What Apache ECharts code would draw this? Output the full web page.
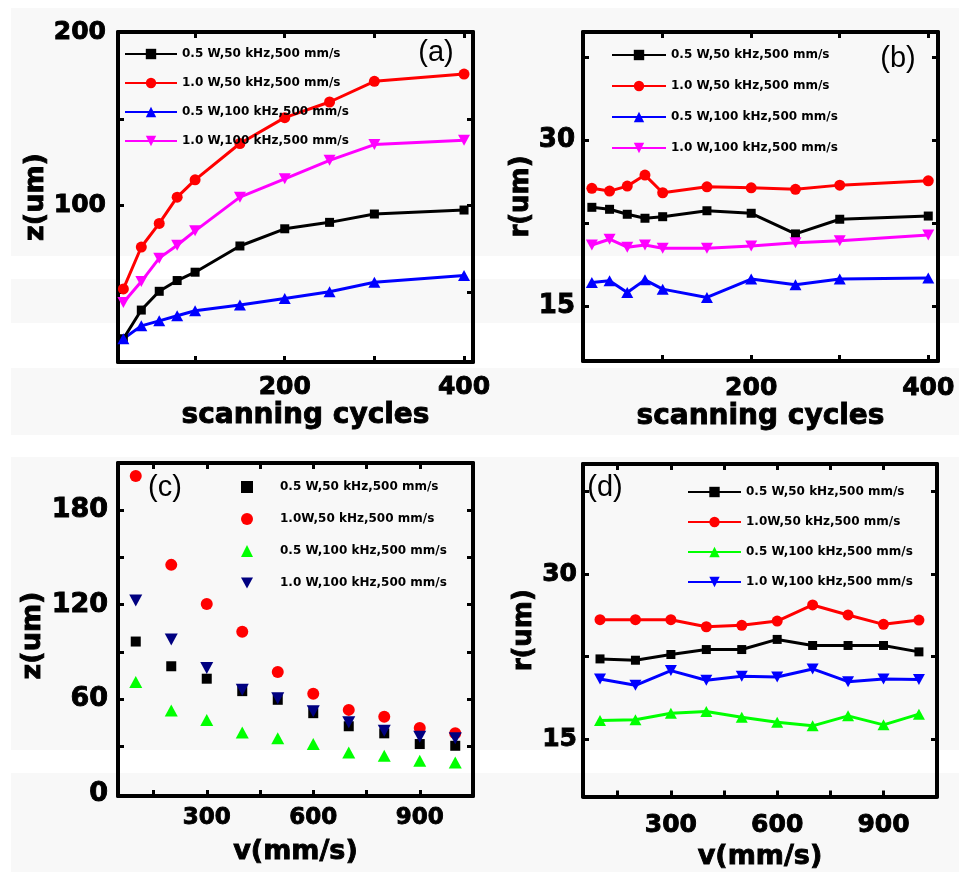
<!DOCTYPE html>
<html>
<head>
<meta charset="utf-8">
<script src="https://cdn.jsdelivr.net/npm/echarts@6/dist/echarts.min.js"></script>
<style>html,body{margin:0;padding:0;background:#fff;}#c{width:959px;height:872px;}</style>
</head>
<body>
<div id="c"></div>
<script>
// ---------- data ----------
const cycles = [20, 40, 60, 80, 100, 150, 200, 250, 300, 400];
const speeds = [100, 200, 300, 400, 500, 600, 700, 800, 900, 1000];

const legendAB = ['0.5 W,50 kHz,500 mm/s', '1.0 W,50 kHz,500 mm/s', '0.5 W,100 kHz,500 mm/s', '1.0 W,100 kHz,500 mm/s'];
const legendCD = ['0.5 W,50 kHz,500 mm/s', '1.0W,50 kHz,500 mm/s', '0.5 W,100 kHz,500 mm/s', '1.0 W,100 kHz,500 mm/s'];

// (a) depth vs scanning cycles
const zA_05_50  = [23.4, 39.9, 50.7, 56.9, 61.7, 76.8, 86.7, 90.4, 95.2, 97.5];
const zA_10_50  = [52.1, 76.2, 89.8, 104.9, 114.9, 135.8, 150.7, 159.7, 171.6, 175.8];
const zA_05_100 = [23.4, 30.8, 33.7, 36.6, 39.5, 42.8, 46.6, 50.5, 55.9, 59.8];
const zA_10_100 = [44.3, 56.3, 69.8, 77.2, 85.5, 104.9, 115.5, 126.1, 135.2, 137.7];

// (b) radius vs scanning cycles
const rB_05_50  = [23.92, 23.74, 23.29, 22.93, 23.07, 23.61, 23.38, 21.51, 22.84, 23.13];
const rB_10_50  = [25.64, 25.39, 25.84, 26.84, 25.24, 25.78, 25.69, 25.55, 25.93, 26.32];
const rB_05_100 = [17.11, 17.26, 16.21, 17.35, 16.51, 15.76, 17.42, 16.90, 17.42, 17.51];
const rB_10_100 = [20.51, 21.03, 20.31, 20.51, 20.21, 20.21, 20.42, 20.72, 20.90, 21.42];

// (c) depth vs speed
const zC_05_50  = [96.6, 80.9, 73.0, 65.1, 59.6, 51.1, 42.8, 38.3, 31.5, 30.4];
const zC_10_50  = [201.7, 145.3, 120.4, 102.8, 77.2, 63.4, 53.2, 48.9, 41.7, 38.3];
const zC_05_100 = [70.9, 52.8, 46.8, 38.9, 35.1, 31.5, 26.2, 24.0, 20.9, 19.8];
const zC_10_100 = [122.6, 97.9, 79.8, 66.0, 60.6, 52.3, 45.3, 40.0, 36.2, 35.1];

// (d) radius vs speed
const rD_05_50  = [22.30, 22.18, 22.70, 23.15, 23.15, 24.07, 23.52, 23.52, 23.52, 22.94];
const rD_10_50  = [25.86, 25.86, 25.86, 25.22, 25.35, 25.74, 27.20, 26.29, 25.44, 25.83];
const rD_05_100 = [16.70, 16.77, 17.37, 17.53, 17.01, 16.55, 16.22, 17.13, 16.31, 17.28];
const rD_10_100 = [20.48, 19.90, 21.24, 20.36, 20.72, 20.66, 21.39, 20.23, 20.48, 20.42];

// tick values
const ticksX_AB = [100, 200, 300, 400];
const labelsX_AB = [200, 400];
const ticksY_A = [50, 100, 150, 200];
const labelsY_A = [100, 200];
const ticksY_BD = [15, 22.5, 30, 37.5];
const labelsY_BD = [15, 30];
const ticksX_CD = [150, 300, 450, 600, 750, 900];
const labelsX_CD = [300, 600, 900];
const ticksY_C = [30, 60, 90, 120, 150, 180];
const labelsY_C = [0, 60, 120, 180];

// ---------- helpers ----------
const FONT = 'DejaVu Sans';
const INV_TRI = 'path://M0,0L20,0L10,18Z';
const HEAVY = { textBorderColor: '#000', textBorderWidth: 0.9 };

function pairs(xs, ys) { return xs.map((x, i) => [x, ys[i]]); }

function xAxes(grid, min, max, ticks, labels, fs, margin, name, gap, pad, nfs) {
  const base = {
    type: 'value', gridIndex: grid, min: min, max: max,
    splitLine: { show: false },
    axisLine: { show: true, onZero: false, lineStyle: { color: '#000', width: 4 } },
    axisTick: { show: true, inside: true, length: 6, customValues: ticks, lineStyle: { color: '#000', width: 3 } }
  };
  return [
    Object.assign({}, base, {
      position: 'bottom',
      axisLabel: Object.assign({ show: true, customValues: labels, margin: margin, color: '#000', fontFamily: FONT, fontWeight: 'bold', fontSize: fs }, HEAVY),
      name: name, nameLocation: 'middle', nameGap: gap,
      nameTextStyle: Object.assign({ color: '#000', fontFamily: FONT, fontWeight: 'bold', fontSize: nfs, padding: pad }, HEAVY)
    }),
    Object.assign({}, base, { position: 'top', axisLabel: { show: false } })
  ];
}

function yAxes(grid, min, max, ticks, labels, fs, margin, name, gap, pad, nfs) {
  const base = {
    type: 'value', gridIndex: grid, min: min, max: max,
    splitLine: { show: false },
    axisLine: { show: true, onZero: false, lineStyle: { color: '#000', width: 4 } },
    axisTick: { show: true, inside: true, length: 6, customValues: ticks, lineStyle: { color: '#000', width: 3 } }
  };
  return [
    Object.assign({}, base, {
      position: 'left',
      axisLabel: Object.assign({ show: true, customValues: labels, margin: margin, color: '#000', fontFamily: FONT, fontWeight: 'bold', fontSize: fs }, HEAVY),
      name: name, nameLocation: 'middle', nameGap: gap, nameRotate: 90,
      nameTextStyle: Object.assign({ color: '#000', fontFamily: FONT, fontWeight: 'bold', fontSize: nfs, padding: pad }, HEAVY)
    }),
    Object.assign({}, base, { position: 'right', axisLabel: { show: false } })
  ];
}

function lineS(panel, label, idx, xs, ys, color, symbol, size) {
  return {
    type: 'line', name: panel + '|' + label, xAxisIndex: idx * 2, yAxisIndex: idx * 2,
    data: pairs(xs, ys), color: color,
    lineStyle: { color: color, width: 3 }, itemStyle: { color: color },
    symbol: symbol, symbolSize: size, showSymbol: true, animation: false, z: 3
  };
}
function scatterS(panel, label, idx, xs, ys, color, symbol, size) {
  return {
    type: 'scatter', name: panel + '|' + label, xAxisIndex: idx * 2, yAxisIndex: idx * 2,
    data: pairs(xs, ys), color: color, itemStyle: { color: color, opacity: 1 },
    symbol: symbol, symbolSize: size, animation: false, z: 3
  };
}
function legend(panel, labels, left, top, w, h, gap, textPad) {
  return {
    data: labels.map(l => panel + '|' + l),
    orient: 'vertical', left: left, top: top, padding: 0,
    itemWidth: w, itemHeight: h, itemGap: gap, selectedMode: false,
    formatter: n => n.split('|')[1],
    textStyle: { color: '#000', fontFamily: FONT, fontWeight: 'bold', fontSize: 12, lineHeight: 14, padding: [0, 0, 0, textPad] }
  };
}

const chart = echarts.init(document.getElementById('c'), null, { renderer: 'canvas' });

const xs = [].concat(
  xAxes(0, 14, 410, ticksX_AB, labelsX_AB, 25, 13, 'scanning cycles', 39, [0, 0, 0, 20], 28),
  xAxes(1, 10, 411, ticksX_AB, labelsX_AB, 25, 15, 'scanning cycles', 42, 0, 28),
  xAxes(2, 50, 1050, ticksX_CD, labelsX_CD, 23, 11, 'v(mm/s)', 42, 0, 27),
  xAxes(3, 52, 1051, ticksX_CD, labelsX_CD, 25, 16, 'v(mm/s)', 47, 0, 27)
);
const ys = [].concat(
  yAxes(0, 10, 200, ticksY_A, labelsY_A, 25, 12, 'z(um)', 66, 0, 27),
  yAxes(1, 10, 39.8, ticksY_BD, labelsY_BD, 26, 8, 'r(um)', 47, 0, 26),
  yAxes(2, -1.5, 210, ticksY_C, labelsY_C, 27, 10, 'z(um)', 67, [0, 12, 0, 0], 27),
  yAxes(3, 9.8, 40, ticksY_BD, labelsY_BD, 25, 6, 'r(um)', 42, 0, 26)
);

const series = [
  lineS('a', legendAB[0], 0, cycles, zA_05_50, '#000000', 'rect', 9),
  lineS('a', legendAB[1], 0, cycles, zA_10_50, '#ff0000', 'circle', 11),
  lineS('a', legendAB[2], 0, cycles, zA_05_100, '#0000ff', 'triangle', [12, 11]),
  lineS('a', legendAB[3], 0, cycles, zA_10_100, '#ff00ff', INV_TRI, [12, 11]),
  lineS('b', legendAB[0], 1, cycles, rB_05_50, '#000000', 'rect', 9),
  lineS('b', legendAB[1], 1, cycles, rB_10_50, '#ff0000', 'circle', 11),
  lineS('b', legendAB[2], 1, cycles, rB_05_100, '#0000ff', 'triangle', [12, 11]),
  lineS('b', legendAB[3], 1, cycles, rB_10_100, '#ff00ff', INV_TRI, [12, 11]),
  scatterS('c', legendCD[0], 2, speeds, zC_05_50, '#000000', 'rect', 10),
  scatterS('c', legendCD[1], 2, speeds, zC_10_50, '#ff0000', 'circle', 12),
  scatterS('c', legendCD[2], 2, speeds, zC_05_100, '#00ff00', 'triangle', [13, 12]),
  scatterS('c', legendCD[3], 2, speeds, zC_10_100, '#000080', INV_TRI, [13, 12]),
  lineS('d', legendCD[0], 3, speeds, rD_05_50, '#000000', 'rect', 9),
  lineS('d', legendCD[1], 3, speeds, rD_10_50, '#ff0000', 'circle', 11),
  lineS('d', legendCD[2], 3, speeds, rD_05_100, '#00ff00', 'triangle', [12, 11]),
  lineS('d', legendCD[3], 3, speeds, rD_10_100, '#0000ff', INV_TRI, [12, 11])
];

const bands = [[8, 256], [279, 323], [368, 435], [457, 750], [773, 872]];
const graphics = bands.map(b => ({
  type: 'rect', z: -100, silent: true,
  shape: { x: 11, y: b[0], width: 948, height: b[1] - b[0] },
  style: { fill: '#f8f8f8' }
}));
const tags = [['(a)', 436, 53], ['(b)', 898, 59], ['(c)', 165, 488], ['(d)', 605, 488]];
tags.forEach(t => graphics.push({
  type: 'text', x: t[1], y: t[2], z: 100, silent: true,
  style: { text: t[0], fill: '#000', font: '29px "Liberation Sans"', align: 'center', verticalAlign: 'middle', textAlign: 'center', textVerticalAlign: 'middle' }
}));

chart.setOption({
  animation: false,
  backgroundColor: 'transparent',
  grid: [
    { left: 118, top: 32, width: 355, height: 330 },
    { left: 583, top: 32, width: 355, height: 329 },
    { left: 118, top: 463, width: 355, height: 333 },
    { left: 583, top: 464, width: 354, height: 333 }
  ],
  xAxis: xs,
  yAxis: ys,
  legend: [
    legend('a', legendAB, 124, 47, 52, 13, 15, 0),
    legend('b', legendAB, 611, 48, 54, 13, 17, 0),
    legend('c', legendCD, 241, 480, 12, 12, 18, 22),
    legend('d', legendCD, 687, 485, 53, 13, 16, 0)
  ],
  graphic: graphics,
  series: series
});
</script>
</body>
</html>
